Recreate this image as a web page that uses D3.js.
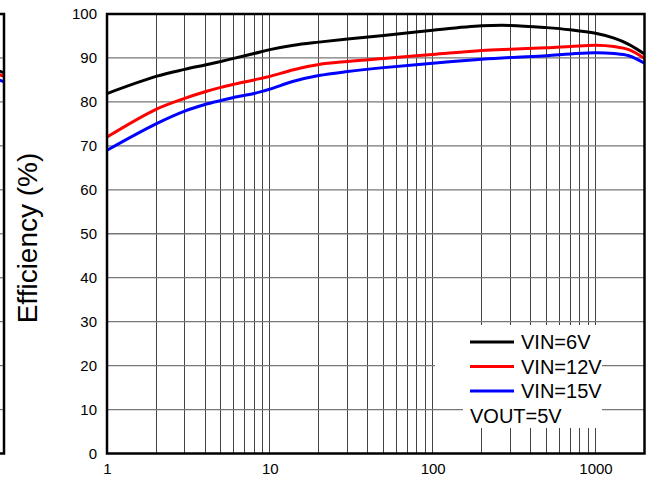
<!DOCTYPE html>
<html>
<head>
<meta charset="utf-8">
<script src="https://cdn.jsdelivr.net/npm/d3@7"></script>
<style>
  body { margin: 0; background: #fff; }
  svg { display: block; font-family: "Liberation Sans", Arial, sans-serif; }
</style>
</head>
<body>
<div id="chart"></div>
<script>
// output current (mA), log axis
const current = [1, 2, 3, 4, 5, 6, 8, 10, 14, 20, 30, 50, 100, 200, 300, 500, 700, 1000, 1300, 1600, 2000];
const vin6 = [81.9, 85.8, 87.4, 88.4, 89.2, 89.9, 91.0, 91.9, 92.9, 93.6, 94.3, 95.1, 96.3, 97.3, 97.4, 96.9, 96.4, 95.6, 94.5, 93.1, 90.9];
const vin12 = [72.0, 78.3, 80.8, 82.3, 83.3, 84.0, 85.0, 85.8, 87.3, 88.5, 89.2, 89.9, 90.8, 91.7, 92.0, 92.3, 92.6, 92.9, 92.6, 91.9, 89.9];
const vin15 = [69.0, 75.0, 77.9, 79.4, 80.3, 81.0, 81.9, 82.9, 84.7, 86.0, 86.9, 87.8, 88.8, 89.7, 90.1, 90.5, 90.9, 91.2, 91.0, 90.5, 88.8];
const seriesNames = ["VIN=6V", "VIN=12V", "VIN=15V"];
const seriesColors = ["#000000", "#ff0000", "#0000ff"];
const xTickLabels = [1, 10, 100, 1000];
const yTickLabels = [0, 10, 20, 30, 40, 50, 60, 70, 80, 90, 100];
const noteText = "VOUT=5V";
const yTitle = "Efficiency (%)";

// neighbouring chart, only its right edge shows
const fragCurrent = [1500, 2000];
const fragVin6 = [88.5, 86.6];
const fragVin12 = [87.6, 85.8];
const fragVin15 = [86.2, 84.6];

const width = 647, height = 482;
const margin = { top: 14, right: 2.5, bottom: 28.5, left: 107 };
const plotW = width - margin.left - margin.right;
const plotH = height - margin.top - margin.bottom;

const svg = d3.select("#chart").append("svg")
  .attr("width", width)
  .attr("height", height);

const x = d3.scaleLog().domain([1, 2000]).range([0, plotW]);
const y = d3.scaleLinear().domain([0, 100]).range([plotH, 0]);

// ---- fragment of the neighbouring chart at the left edge
const fx = d3.scaleLog().domain([1, 2000]).range([4 - plotW, 4]);
const frag = svg.append("g").attr("transform", `translate(0, ${margin.top})`);
frag.selectAll(".fgrid")
  .data(yTickLabels.filter(d => d > 0 && d < 100))
  .enter().append("line")
  .attr("x1", 0).attr("x2", 4)
  .attr("y1", d => y(d)).attr("y2", d => y(d))
  .attr("stroke", "#777").attr("stroke-width", 1.2);
[fragVin6, fragVin12, fragVin15].forEach((vals, i) => {
  frag.append("path")
    .datum(fragCurrent.map((c, j) => [c, vals[j]]))
    .attr("fill", "none")
    .attr("stroke", seriesColors[i])
    .attr("stroke-width", 3)
    .attr("d", d3.line().x(d => fx(d[0])).y(d => y(d[1])));
});
frag.append("path")
  .attr("d", `M0,${y(100)}H${fx(2000)}V${y(0)}H0`)
  .attr("fill", "none").attr("stroke", "#000").attr("stroke-width", 2.5);

// ---- main chart
const g = svg.append("g").attr("transform", `translate(${margin.left}, ${margin.top})`);

// grid
const vGrid = x.ticks().filter(d => d > 1 && d < 2000);
g.selectAll(".vgrid")
  .data(vGrid)
  .enter().append("line")
  .attr("x1", d => x(d)).attr("x2", d => x(d))
  .attr("y1", 0).attr("y2", plotH)
  .attr("stroke", "#444").attr("stroke-width", 1)
  .attr("shape-rendering", "crispEdges");

g.selectAll(".hgrid")
  .data(yTickLabels.filter(d => d > 0 && d < 100))
  .enter().append("line")
  .attr("x1", 0).attr("x2", plotW)
  .attr("y1", d => y(d)).attr("y2", d => y(d))
  .attr("stroke", "#777").attr("stroke-width", 1.3);

// white boxes behind legend and note
g.append("rect")
  .attr("x", 328).attr("y", 311)
  .attr("width", 167).attr("height", 75)
  .attr("fill", "#fff");
g.append("rect")
  .attr("x", 356).attr("y", 386)
  .attr("width", 139).attr("height", 28)
  .attr("fill", "#fff");

// curves
const line = d3.line()
  .x(d => x(d[0]))
  .y(d => y(d[1]))
  .curve(d3.curveCatmullRom.alpha(0.5));

[vin6, vin12, vin15].forEach((vals, i) => {
  g.append("path")
    .datum(current.map((c, j) => [c, vals[j]]))
    .attr("fill", "none")
    .attr("stroke", seriesColors[i])
    .attr("stroke-width", 3)
    .attr("d", line);
});

// frame
g.append("rect")
  .attr("x", 0).attr("y", 0)
  .attr("width", plotW).attr("height", plotH)
  .attr("fill", "none")
  .attr("stroke", "#000")
  .attr("stroke-width", 2.5);

// axes
const xAxis = g.append("g")
  .attr("transform", `translate(0, ${plotH})`)
  .call(d3.axisBottom(x).tickValues(xTickLabels).tickFormat(d3.format("d")).tickSize(0).tickPadding(10));
xAxis.select(".domain").remove();
xAxis.selectAll("text").style("font-size", "15px").attr("fill", "#000");

const yAxis = g.append("g")
  .call(d3.axisLeft(y).tickValues(yTickLabels).tickSize(0).tickPadding(10));
yAxis.select(".domain").remove();
yAxis.selectAll("text").style("font-size", "15px").attr("fill", "#000");

svg.append("text")
  .attr("transform", `translate(37, 238) rotate(-90)`)
  .attr("text-anchor", "middle")
  .style("font-size", "28px")
  .text(yTitle);

// legend
const legend = g.append("g").attr("transform", "translate(363, 328)");
seriesNames.forEach((name, i) => {
  const row = legend.append("g").attr("transform", `translate(0, ${i * 24.5})`);
  row.append("line")
    .attr("x1", 0).attr("x2", 44)
    .attr("y1", 0).attr("y2", 0)
    .attr("stroke", seriesColors[i])
    .attr("stroke-width", 3);
  row.append("text")
    .attr("x", 51).attr("y", 0)
    .attr("dy", "0.35em")
    .style("font-size", "20px")
    .text(name);
});
legend.append("text")
  .attr("x", 0).attr("y", 74)
  .attr("dy", "0.35em")
  .style("font-size", "20px")
  .text(noteText);
</script>
</body>
</html>
